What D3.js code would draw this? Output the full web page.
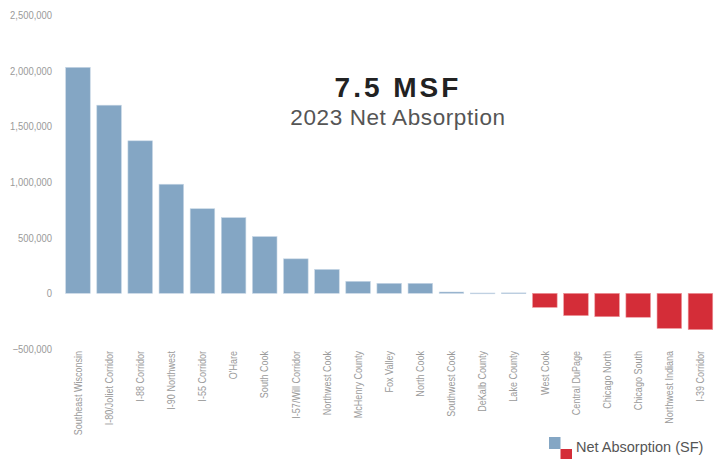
<!DOCTYPE html>
<html>
<head>
<meta charset="utf-8">
<script src="https://cdn.jsdelivr.net/npm/d3@7/dist/d3.min.js"></script>
<style>
  html, body { margin: 0; padding: 0; background: #fff; }
  svg { display: block; }
</style>
</head>
<body>
<svg id="chart" width="718" height="459"></svg>
<script>
// Submarket names, in order of 2023 net absorption
const categories = [
  "Southeast Wisconsin", "I-80/Joliet Corridor", "I-88 Corridor", "I-90 Northwest",
  "I-55 Corridor", "O'Hare", "South Cook", "I-57/Will Corridor", "Northwest Cook",
  "McHenry County", "Fox Valley", "North Cook", "Southwest Cook", "DeKalb County",
  "Lake County", "West Cook", "Central DuPage", "Chicago North", "Chicago South",
  "Northwest Indiana", "I-39 Corridor"
];
// Net absorption in square feet
const netAbsorption = [
  2030000, 1690000, 1370000, 980000,
  760000, 680000, 510000, 310000, 215000,
  108000, 90000, 90000, 12000, 3000,
  4000, -126000, -200000, -210000, -215000,
  -315000, -326000
];
const yTicks = [-500000, 0, 500000, 1000000, 1500000, 2000000, 2500000];
const headline = "7.5 MSF";
const subtitle = "2023 Net Absorption";
const legendLabel = "Net Absorption (SF)";

const svg = d3.select("#chart");
const sans = "'Liberation Sans', Arial, Helvetica, sans-serif";
const blue = "#84a6c4";
const red = "#d42d38";

const step = 31.125;
const x = d3.scaleBand()
  .domain(categories)
  .range([62.4, 62.4 + step * categories.length])
  .paddingInner(0.21)
  .paddingOuter(0.105);

const y = d3.scaleLinear()
  .domain([-500000, 2500000])
  .range([349, 15]);

// y axis: labels only, no line or ticks
const yAxis = d3.axisLeft(y)
  .tickValues(yTicks)
  .tickSize(0)
  .tickPadding(0)
  .tickFormat(d3.format(","));

const yg = svg.append("g")
  .attr("transform", "translate(52,0)")
  .call(yAxis);
yg.select(".domain").remove();
yg.selectAll(".tick text")
  .attr("font-family", sans)
  .attr("font-size", 10.5)
  .attr("fill", "#9a9a9a")
  .attr("transform", "scale(0.9,1)");

// bars
svg.append("g")
  .selectAll("rect")
  .data(netAbsorption)
  .join("rect")
  .attr("x", (d, i) => x(categories[i]))
  .attr("width", x.bandwidth())
  .attr("y", d => y(Math.max(0, d)))
  .attr("height", d => Math.max(0.8, Math.abs(y(d) - y(0))))
  .attr("fill", d => d >= 0 ? blue : red)
  .attr("stroke", d => d >= 0 ? "#c9d8e6" : "#ee9aa0")
  .attr("stroke-width", 0.6);

// category labels, rotated and condensed
const xg = svg.append("g")
  .attr("transform", "translate(0,351)")
  .call(d3.axisBottom(x).tickSize(0).tickPadding(0));
xg.select(".domain").remove();
xg.selectAll(".tick text")
  .attr("font-family", sans)
  .attr("font-size", 10.5)
  .attr("fill", "#9a9a9a")
  .attr("text-anchor", "end")
  .attr("transform", "rotate(-90) scale(0.86,1)")
  .attr("x", 0)
  .attr("y", 0)
  .attr("dy", "0.35em");

// headline
svg.append("text")
  .attr("x", 398)
  .attr("y", 97)
  .attr("text-anchor", "middle")
  .attr("font-family", sans)
  .attr("font-weight", "bold")
  .attr("font-size", 28)
  .attr("letter-spacing", 3)
  .attr("fill", "#222")
  .text(headline);

svg.append("text")
  .attr("x", 398)
  .attr("y", 125)
  .attr("text-anchor", "middle")
  .attr("font-family", sans)
  .attr("font-size", 22.5)
  .attr("letter-spacing", 0.6)
  .attr("fill", "#555")
  .text(subtitle);

// legend
const lg = svg.append("g");
lg.append("rect").attr("x", 549).attr("y", 437).attr("width", 11.5).attr("height", 12).attr("fill", blue);
lg.append("rect").attr("x", 560.5).attr("y", 449).attr("width", 11.5).attr("height", 11).attr("fill", red);
lg.append("text")
  .attr("x", 576)
  .attr("y", 452)
  .attr("font-family", sans)
  .attr("font-size", 14.5)
  .attr("fill", "#555")
  .text(legendLabel);
</script>
</body>
</html>
